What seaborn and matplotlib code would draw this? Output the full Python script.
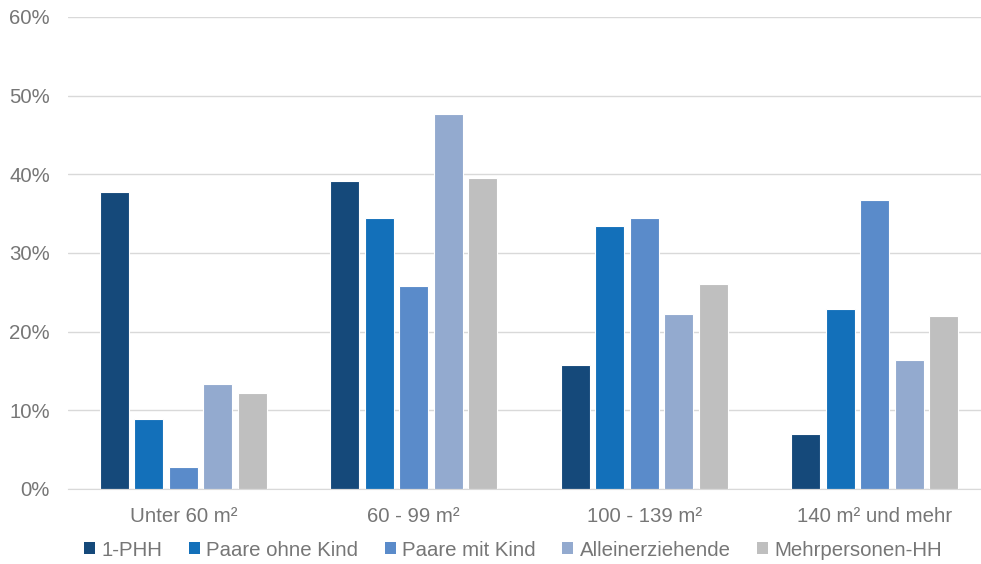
# %% wohnflaechen nach haushaltstyp - balkendiagramm
import matplotlib
matplotlib.use("Agg")
from matplotlib import pyplot as plt
from matplotlib.patches import Patch
from matplotlib.ticker import PercentFormatter
import seaborn as sns
import pandas as pd

# %% DATA
groessen = ["Unter 60 m²", "60 - 99 m²", "100 - 139 m²", "140 m² und mehr"]
haushalte = ["1-PHH", "Paare ohne Kind", "Paare mit Kind", "Alleinerziehende", "Mehrpersonen-HH"]

phh_1 = [37.8, 39.2, 15.8, 7.0]
paare_ohne = [8.9, 34.4, 33.4, 22.9]
paare_mit = [2.8, 25.8, 34.4, 36.8]
alleinerz = [13.4, 47.7, 22.2, 16.4]
mehrpers = [12.2, 39.5, 26.1, 22.0]

farben = ["#15497A", "#1370BA", "#5A8BCA", "#93AACF", "#BFBFBF"]

# %% build long table
werte = [phh_1, paare_ohne, paare_mit, alleinerz, mehrpers]
rows = []
for hh, vals in zip(haushalte, werte):
    for g, v in zip(groessen, vals):
        rows.append({"groesse": g, "haushalt": hh, "anteil": v})
df = pd.DataFrame(rows)

# %% plot
sns.set_style("white")
plt.rcParams["font.family"] = ["Liberation Sans", "DejaVu Sans"]
textfarbe = "#767676"
fs = 14.7

fig = plt.figure(figsize=(9.81, 5.64), dpi=100)
# plot area runs a bit past the right edge, like in the original export
ax = fig.add_axes([68 / 981, 1 - 489 / 564, (990 - 68) / 981, (489 - 17) / 564])

sns.barplot(data=df, x="groesse", y="anteil", hue="haushalt",
            order=groessen, hue_order=haushalte, palette=farben, saturation=1,
            width=0.75, gap=0.16, edgecolor="white", linewidth=0.8,
            legend=False, ax=ax)

ax.set_ylim(0, 60)
ax.set_yticks(range(0, 61, 10))
ax.yaxis.set_major_formatter(PercentFormatter(decimals=0))
ax.grid(axis="y", color="#D9D9D9", linewidth=1)
ax.set_axisbelow(True)
for s in ["top", "right", "left"]:
    ax.spines[s].set_visible(False)
ax.spines["bottom"].set_color("#D9D9D9")
ax.tick_params(axis="both", length=0, labelsize=fs, labelcolor=textfarbe)
ax.tick_params(axis="x", pad=13)
ax.tick_params(axis="y", pad=13)
ax.set_xlabel("")
ax.set_ylabel("")

handles = [Patch(facecolor=c, edgecolor="none") for c in farben]
fig.legend(handles, haushalte, loc="center", bbox_to_anchor=(0.523, 1 - 550 / 564),
           ncol=5, frameon=False, fontsize=fs, handlelength=0.55, handleheight=0.55,
           handletextpad=0.3, columnspacing=1.3, labelcolor=textfarbe)

fig.savefig("out.png", dpi=100)
